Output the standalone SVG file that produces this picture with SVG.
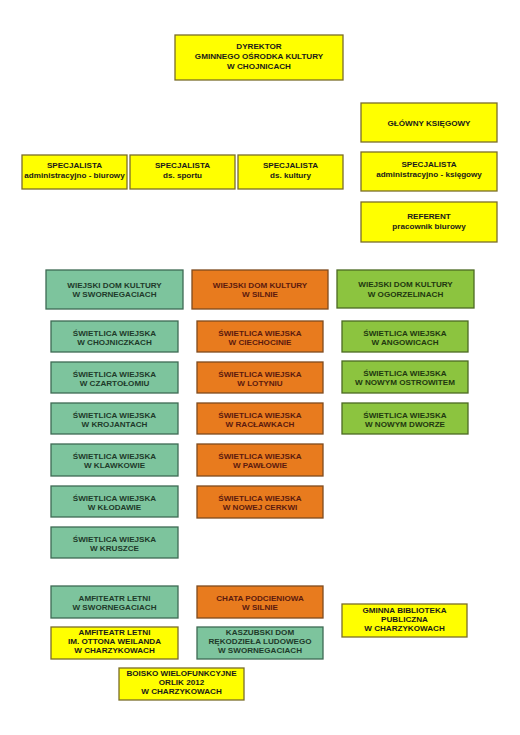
<svg xmlns="http://www.w3.org/2000/svg" width="520" height="735" viewBox="0 0 520 735">
<style>
rect{stroke-width:1.3}
.y rect{fill:#FFFF00;stroke:#7a6d2a}
.g rect{fill:#7DC49D;stroke:#3E6A53}
.o rect{fill:#E87B1E;stroke:#7E4A1E}
.l rect{fill:#8CC43F;stroke:#4C6A22}
text{font-family:"Liberation Sans",Arial,sans-serif;font-weight:bold;font-size:8.1px;text-anchor:middle}
.y text{fill:#1a1a1a}
.g text{fill:#1E3A2A}
.o text{fill:#5C1A0E}
.l text{fill:#22380F}
</style>
<rect width="520" height="735" fill="#fff"/>
<g id="connectors"/>
<g id="dyrektor" class="y"><rect x="175" y="35" width="168" height="45"/><text x="259" y="49">DYREKTOR</text><text x="259" y="59">GMINNEGO OŚRODKA KULTURY</text><text x="259" y="68.5">W CHOJNICACH</text></g>
<g id="glowny" class="y"><rect x="361" y="103" width="136" height="39"/><text x="429" y="125.5">GŁÓWNY KSIĘGOWY</text></g>
<g id="spec-ks" class="y"><rect x="361" y="152" width="136" height="39"/><text x="429" y="167.3">SPECJALISTA</text><text x="429" y="177.3">administracyjno - księgowy</text></g>
<g id="referent" class="y"><rect x="361" y="202" width="136" height="40"/><text x="429" y="218.7">REFERENT</text><text x="429" y="228.7">pracownik biurowy</text></g>
<g id="spec-biur" class="y"><rect x="22" y="155" width="105" height="34"/><text x="74.5" y="168.3">SPECJALISTA</text><text x="74.5" y="177.5">administracyjno - biurowy</text></g>
<g id="spec-sport" class="y"><rect x="130" y="155" width="105" height="34"/><text x="182.5" y="168.3">SPECJALISTA</text><text x="182.5" y="177.5">ds. sportu</text></g>
<g id="spec-kult" class="y"><rect x="238" y="155" width="105" height="34"/><text x="290.5" y="168.3">SPECJALISTA</text><text x="290.5" y="177.5">ds. kultury</text></g>
<g id="wdk-swor" class="g"><rect x="46" y="270" width="137" height="39"/><text x="114.5" y="287.7">WIEJSKI DOM KULTURY</text><text x="114.5" y="297">W SWORNEGACIACH</text></g>
<g id="wdk-siln" class="o"><rect x="192" y="270" width="136" height="39"/><text x="260" y="287.7">WIEJSKI DOM KULTURY</text><text x="260" y="297">W SILNIE</text></g>
<g id="wdk-ogor" class="l"><rect x="337" y="270" width="137" height="38"/><text x="405.5" y="287.3">WIEJSKI DOM KULTURY</text><text x="405.5" y="296.6">W OGORZELINACH</text></g>
<g id="sw-chojn" class="g"><rect x="51" y="321" width="127" height="31"/><text x="114.5" y="335.5">ŚWIETLICA WIEJSKA</text><text x="114.5" y="344.5">W CHOJNICZKACH</text></g>
<g id="sw-czart" class="g"><rect x="51" y="362" width="127" height="31"/><text x="114.5" y="376.5">ŚWIETLICA WIEJSKA</text><text x="114.5" y="385.5">W CZARTOŁOMIU</text></g>
<g id="sw-kroj" class="g"><rect x="51" y="403" width="127" height="31"/><text x="114.5" y="417.5">ŚWIETLICA WIEJSKA</text><text x="114.5" y="426.5">W KROJANTACH</text></g>
<g id="sw-klaw" class="g"><rect x="51" y="444" width="127" height="32"/><text x="114.5" y="459">ŚWIETLICA WIEJSKA</text><text x="114.5" y="468">W KLAWKOWIE</text></g>
<g id="sw-klod" class="g"><rect x="51" y="486" width="127" height="31"/><text x="114.5" y="500.5">ŚWIETLICA WIEJSKA</text><text x="114.5" y="509.5">W KŁODAWIE</text></g>
<g id="sw-krus" class="g"><rect x="51" y="527" width="127" height="31"/><text x="114.5" y="541.5">ŚWIETLICA WIEJSKA</text><text x="114.5" y="550.5">W KRUSZCE</text></g>
<g id="sw-ciech" class="o"><rect x="197" y="321" width="126" height="31"/><text x="260" y="335.5">ŚWIETLICA WIEJSKA</text><text x="260" y="344.5">W CIECHOCINIE</text></g>
<g id="sw-loty" class="o"><rect x="197" y="362" width="126" height="31"/><text x="260" y="376.5">ŚWIETLICA WIEJSKA</text><text x="260" y="385.5">W LOTYNIU</text></g>
<g id="sw-racl" class="o"><rect x="197" y="403" width="126" height="31"/><text x="260" y="417.5">ŚWIETLICA WIEJSKA</text><text x="260" y="426.5">W RACŁAWKACH</text></g>
<g id="sw-pawl" class="o"><rect x="197" y="444" width="126" height="32"/><text x="260" y="459">ŚWIETLICA WIEJSKA</text><text x="260" y="468">W PAWŁOWIE</text></g>
<g id="sw-nowc" class="o"><rect x="197" y="486" width="126" height="32"/><text x="260" y="501">ŚWIETLICA WIEJSKA</text><text x="260" y="510">W NOWEJ CERKWI</text></g>
<g id="sw-ango" class="l"><rect x="342" y="321" width="126" height="31"/><text x="405" y="335.5">ŚWIETLICA WIEJSKA</text><text x="405" y="344.5">W ANGOWICACH</text></g>
<g id="sw-nowo" class="l"><rect x="342" y="361" width="126" height="32"/><text x="405" y="376">ŚWIETLICA WIEJSKA</text><text x="405" y="385">W NOWYM OSTROWITEM</text></g>
<g id="sw-nowd" class="l"><rect x="342" y="403" width="126" height="31"/><text x="405" y="417.5">ŚWIETLICA WIEJSKA</text><text x="405" y="426.5">W NOWYM DWORZE</text></g>
<g id="amf-swor" class="g"><rect x="51" y="586" width="127" height="32"/><text x="114.5" y="600.5">AMFITEATR LETNI</text><text x="114.5" y="609.5">W SWORNEGACIACH</text></g>
<g id="chata" class="o"><rect x="197" y="586" width="126" height="32"/><text x="260" y="600.5">CHATA PODCIENIOWA</text><text x="260" y="609.5">W SILNIE</text></g>
<g id="amf-charz" class="y"><rect x="51" y="627" width="127" height="32"/><text x="114.5" y="635">AMFITEATR LETNI</text><text x="114.5" y="644.3">IM. OTTONA WEILANDA</text><text x="114.5" y="653.3">W CHARZYKOWACH</text></g>
<g id="kaszubski" class="g"><rect x="197" y="627" width="126" height="32"/><text x="260" y="635">KASZUBSKI DOM</text><text x="260" y="644.3">RĘKODZIEŁA LUDOWEGO</text><text x="260" y="653.3">W SWORNEGACIACH</text></g>
<g id="boisko" class="y"><rect x="119" y="668" width="125" height="32"/><text x="181.5" y="676">BOISKO WIELOFUNKCYJNE</text><text x="181.5" y="685.3">ORLIK 2012</text><text x="181.5" y="694.3">W CHARZYKOWACH</text></g>
<g id="biblioteka" class="y"><rect x="342" y="604" width="125" height="33"/><text x="404.5" y="612.5">GMINNA BIBLIOTEKA</text><text x="404.5" y="621.8">PUBLICZNA</text><text x="404.5" y="630.8">W CHARZYKOWACH</text></g>
</svg>
